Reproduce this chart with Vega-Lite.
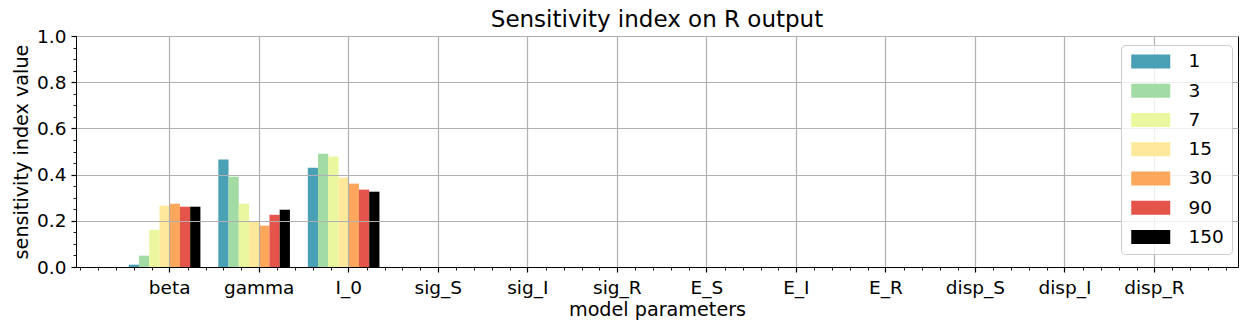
{
  "$schema": "https://vega.github.io/schema/vega-lite/v6.json",
  "width": 1162,
  "height": 231,
  "autosize": {"type": "none"},
  "padding": {"left": 76, "top": 36, "right": 9, "bottom": 64},
  "background": "white",
  "config": {
    "font": "DejaVu Sans",
    "view": {"stroke": "black", "strokeWidth": 1},
    "axis": {"labelFont": "DejaVu Sans", "titleFont": "DejaVu Sans", "labelColor": "black", "titleColor": "black", "tickColor": "black", "domainColor": "black", "gridColor": "#b0b0b0", "gridWidth": 1.2, "titleFontWeight": "normal"}
  },
  "title": {"text": "Sensitivity index on R output", "fontSize": 23, "fontWeight": "normal", "font": "DejaVu Sans", "color": "black", "anchor": "middle", "baseline": "top", "offset": -5.4},
  "layer": [
    {
      "data": {"values": [
        {"param": "beta", "t": "1", "value": 0.010},
        {"param": "beta", "t": "3", "value": 0.049},
        {"param": "beta", "t": "7", "value": 0.161},
        {"param": "beta", "t": "15", "value": 0.265},
        {"param": "beta", "t": "30", "value": 0.274},
        {"param": "beta", "t": "90", "value": 0.261},
        {"param": "beta", "t": "150", "value": 0.261},
        {"param": "gamma", "t": "1", "value": 0.465},
        {"param": "gamma", "t": "3", "value": 0.391},
        {"param": "gamma", "t": "7", "value": 0.274},
        {"param": "gamma", "t": "15", "value": 0.199},
        {"param": "gamma", "t": "30", "value": 0.179},
        {"param": "gamma", "t": "90", "value": 0.226},
        {"param": "gamma", "t": "150", "value": 0.248},
        {"param": "I_0", "t": "1", "value": 0.430},
        {"param": "I_0", "t": "3", "value": 0.490},
        {"param": "I_0", "t": "7", "value": 0.478},
        {"param": "I_0", "t": "15", "value": 0.387},
        {"param": "I_0", "t": "30", "value": 0.361},
        {"param": "I_0", "t": "90", "value": 0.335},
        {"param": "I_0", "t": "150", "value": 0.326},
        {"param": "sig_S", "t": "1", "value": 0},
        {"param": "sig_I", "t": "1", "value": 0},
        {"param": "sig_R", "t": "1", "value": 0},
        {"param": "E_S", "t": "1", "value": 0},
        {"param": "E_I", "t": "1", "value": 0},
        {"param": "E_R", "t": "1", "value": 0},
        {"param": "disp_S", "t": "1", "value": 0},
        {"param": "disp_I", "t": "1", "value": 0},
        {"param": "disp_R", "t": "1", "value": 0}
      ]},
      "mark": {"type": "bar"},
      "encoding": {
        "x": {
          "field": "param", "type": "nominal",
          "scale": {"domain": ["beta", "gamma", "I_0", "sig_S", "sig_I", "sig_R", "E_S", "E_I", "E_R", "disp_S", "disp_I", "disp_R"], "paddingInner": 0.0857, "paddingOuter": 0.5332, "align": 0.553},
          "axis": {"orient": "bottom", "title": "model parameters", "titleFontSize": 19.2, "titleY": 48, "titleBaseline": "alphabetic", "labelFontSize": 18.5, "labelAngle": 0, "labelPadding": 6, "tickSize": 5, "tickWidth": 1.2, "bandPosition": 0.5, "grid": true, "domain": true, "domainWidth": 1, "zindex": 1, "labelOverlap": false}
        },
        "xOffset": {"field": "t", "type": "nominal", "scale": {"domain": ["1", "3", "7", "15", "30", "90", "150", "pad"], "paddingInner": 0, "paddingOuter": 0}},
        "y": {
          "field": "value", "type": "quantitative",
          "scale": {"domain": [0, 1], "nice": false, "zero": true},
          "axis": {
            "title": "sensitivity index value", "titleFontSize": 19.2, "titleX": -55, "titleY": 115.5, "titleAngle": 270, "titleAlign": "center", "titleBaseline": "middle",
            "values": [0, 0.05, 0.1, 0.15, 0.2, 0.25, 0.3, 0.35, 0.4, 0.45, 0.5, 0.55, 0.6, 0.65, 0.7, 0.75, 0.8, 0.85, 0.9, 0.95, 1.0],
            "labelExpr": "abs(datum.value*5 - round(datum.value*5)) < 0.000001 ? format(datum.value, '.1f') : ''",
            "labelFontSize": 18.5, "labelPadding": 5, "labelOverlap": false, "labelFlush": false,
            "tickSize": {"condition": {"test": "abs(datum.value*5 - round(datum.value*5)) < 0.000001", "value": 5}, "value": 3},
            "tickWidth": {"condition": {"test": "abs(datum.value*5 - round(datum.value*5)) < 0.000001", "value": 1.2}, "value": 0.9},
            "gridOpacity": {"condition": {"test": "abs(datum.value*5 - round(datum.value*5)) < 0.000001", "value": 1}, "value": 0},
            "grid": true, "domainWidth": 1, "zindex": 1
          }
        },
        "color": {
          "field": "t", "type": "nominal",
          "scale": {"domain": ["1", "3", "7", "15", "30", "90", "150"], "range": ["#4aa0b4", "#a3dba4", "#eaf79e", "#fee899", "#fda75d", "#e5544b", "#000000"]},
          "legend": {"orient": "none", "legendX": 1045, "legendY": 9, "title": null, "symbolType": "M-2.786,-1H2.786V1H-2.786Z", "symbolSize": 196, "symbolOffset": 13.3, "symbolStrokeWidth": 0, "symbolOpacity": 1, "labelFontSize": 18.5, "labelFont": "DejaVu Sans", "labelColor": "black", "labelOffset": 28.5, "padding": 7.2, "rowPadding": 10.25, "strokeColor": "#cccccc", "fillColor": "rgba(255,255,255,0.8)", "cornerRadius": 4, "zindex": 2}
        }
      }
    },
    {
      "data": {"values": [{"k": 0}]},
      "mark": {"type": "rule", "opacity": 0},
      "encoding": {
        "x": {
          "datum": 0, "type": "quantitative",
          "scale": {"domain": [-1.047, 11.933], "nice": false, "zero": false},
          "axis": {"orient": "bottom", "title": null, "labels": false, "grid": false, "domain": false, "tickSize": 3, "tickWidth": 0.9, "tickColor": "black",
            "values": [-1, -0.8, -0.6, -0.4, -0.2, 0.2, 0.4, 0.6, 0.8, 1.2, 1.4, 1.6, 1.8, 2.2, 2.4, 2.6, 2.8, 3.2, 3.4, 3.6, 3.8, 4.2, 4.4, 4.6, 4.8, 5.2, 5.4, 5.6, 5.8, 6.2, 6.4, 6.6, 6.8, 7.2, 7.4, 7.6, 7.8, 8.2, 8.4, 8.6, 8.8, 9.2, 9.4, 9.6, 9.8, 10.2, 10.4, 10.6, 10.8, 11.2, 11.4, 11.6, 11.8]}
        }
      }
    }
  ],
  "resolve": {"scale": {"x": "independent"}, "axis": {"x": "independent"}}
}
